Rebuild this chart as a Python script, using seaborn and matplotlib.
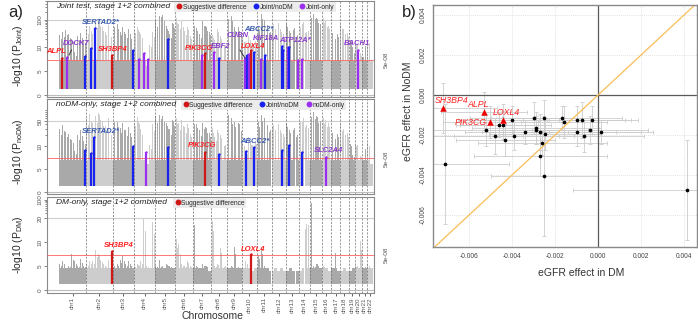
import numpy as np
import matplotlib.pyplot as plt
import seaborn as sns
from matplotlib.lines import Line2D

sns.set_style("white")
plt.rcParams['font.family'] = ['Liberation Sans', 'DejaVu Sans']
plt.rcParams['mathtext.default'] = 'regular'

# chromosome lengths (Mb)
chrom_len = [249, 243, 198, 191, 181, 171, 159, 146, 141, 136, 135, 134,
             115, 107, 103, 90, 81, 78, 59, 63, 48, 51]
chrom_names = [f"chr{i}" for i in range(1, 23)]

# background -log10(p) column heights, per chromosome
joint_bg = [
    [28, 35, 42, 30, 20, 9, 25, 32, 18],
    [45, 60, 30, 80, 95, 60, 40, 70, 25],
    [60, 75, 40, 55, 30, 45, 20],
    [40, 55, 30, 7, 6, 12, 35],
    [90, 150, 170, 120, 60, 30, 80],
    [130, 70, 90, 40, 55, 25],
    [80, 50, 30, 95, 60, 40],
    [30, 18, 45, 25, 12],
    [120, 150, 60, 90, 40],
    [20, 15, 25, 12, 18],
    [60, 180, 110, 70, 40],
    [80, 60, 100, 45, 30],
    [70, 40, 55, 30],
    [60, 90, 40, 50],
    [150, 170, 120, 80],
    [130, 90, 60],
    [40, 25, 30],
    [70, 45, 35],
    [20, 10],
    [14, 9],
    [8, 12],
    [18, 7],
]
nodm_bg = [
    [30, 38, 25, 22, 15, 9, 20, 28, 14],
    [60, 80, 45, 70, 83, 55, 40, 65, 22],
    [50, 53, 35, 43, 28, 34, 18],
    [45, 65, 30, 7, 6, 11, 40],
    [70, 83, 75, 60, 45, 30, 55],
    [65, 43, 55, 34, 40, 22],
    [53, 40, 28, 45, 34, 25],
    [34, 18, 28, 20, 11],
    [80, 65, 53, 70, 40],
    [12, 9, 18, 11, 14],
    [53, 81, 65, 43, 30],
    [43, 34, 53, 28, 22],
    [43, 28, 34, 22],
    [53, 65, 43, 40],
    [83, 90, 70, 55],
    [65, 53, 43],
    [28, 18, 22],
    [40, 30, 25],
    [12, 8],
    [11, 8],
    [7, 10],
    [12, 6],
]
dm_bg = [
    [5.5, 6, 4.5, 5, 7.5, 6, 5, 6.5, 5],
    [5.5, 6, 6, 8.3, 7.5, 6, 5, 6.5, 5],
    [5, 5.5, 6.5, 7, 5.5, 6, 5],
    [5, 5.5, 6, 20, 5, 4.5, 18],
    [5, 6.5, 5, 4.5, 5.5, 5, 4.5],
    [11.5, 9.5, 5.5, 5, 6, 5],
    [20, 5, 4.5, 5.5, 5, 4],
    [20, 5, 5.5, 8.8, 5],
    [4.5, 5, 9.5, 5, 4.5],
    [4.5, 6, 4.5, 4, 4.5],
    [7.6, 9.5, 5, 4.5, 4],
    [4, 4.5, 4, 4.5, 4],
    [4, 4.5, 4, 4],
    [4, 4.5, 18, 20],
    [100, 5, 5.5, 4.5],
    [5, 4.5, 4],
    [4.5, 8.8, 4],
    [4, 4.5, 4],
    [4, 4.5],
    [5, 11],
    [4.5, 5],
    [5.5, 4.5],
]

# highlighted loci: chromosome, position (Mb), top -log10(p), group
joint_loci_chr = [1, 1, 1, 2, 2, 2, 3, 4, 4, 4, 5, 7, 7, 8, 8, 10, 10, 10, 10, 10,
                  11, 11, 12, 12, 13, 13, 13, 14, 20]
joint_loci_pos = [30, 70, 239, 42, 81, 236, 184, 47, 90, 124, 116, 76, 110, 33, 79,
                  27, 43, 67, 87, 110, 35, 75, 93, 108, 20, 29, 106, 28, 23]
joint_loci_top = [7.7, 7.9, 8.2, 9.8, 50, 8.3, 9.4, 7.6, 8.8, 7.5, 19.8, 8.3, 8.8, 9, 7.8,
                  7.8, 8.3, 8.5, 9.4, 9, 7.6, 8.3, 10.5, 9.4, 10, 10, 7.2, 7.5, 9.4]
joint_loci_grp = ['s', 'o', 'b', 'b', 'b', 's', 'b', 'o', 'o', 'o', 'b', 'o', 's', 'o', 'b',
                  'o', 'b', 'o', 's', 'b', 'o', 'b', 'b', 'b', 'o', 'b', 'o', 'o', 'o']

nodm_loci_chr = [1, 2, 2, 3, 4, 5, 7, 8, 10, 10, 12, 13, 14, 16]
nodm_loci_pos = [239, 42, 75, 184, 110, 116, 110, 79, 35, 110, 93, 29, 35, 41]
nodm_loci_top = [9.1, 8.5, 18, 10, 8.8, 9.8, 8.8, 8.3, 8.9, 9.8, 9.1, 11, 8.8, 7.7]
nodm_loci_grp = ['b', 'b', 'b', 'b', 'o', 'b', 's', 'b', 'b', 'b', 'b', 'b', 'b', 'o']

dm_loci_chr = [2, 10]
dm_loci_pos = [236, 87]
dm_loci_top = [8.2, 7.5]
dm_loci_grp = ['s', 's']

# gene labels: text, cumulative Mb, -log10(p), group
joint_lab_text = ['ALPL', 'DOCK7', 'SERTAD2*', 'SH3BP4', 'PIK3CG', 'EBF2', 'CUBN',
                  'LOXL4', 'ABCC2*', 'KIF18A', 'ATP12A*', 'BACH1']
joint_lab_x = [-28, 156, 385, 495, 1282, 1486, 1642, 1780, 1835, 1899, 2165, 2734]
joint_lab_y = [9, 14, 78, 9.4, 9.6, 10, 25.6, 10, 46, 20, 17, 13]
joint_lab_grp = ['s', 'o', 'b', 's', 's', 'o', 'o', 's', 'b', 'o', 'o', 'o']

nodm_lab_text = ['SERTAD2*', 'PIK3CG', 'ABCC2*', 'SLC2A4']
nodm_lab_x = [385, 1312, 1798, 2477]
nodm_lab_y = [25, 10, 13, 9]
nodm_lab_grp = ['b', 's', 'b', 'o']

dm_lab_text = ['SH3BP4', 'LOXL4']
dm_lab_x = [550, 1780]
dm_lab_y = [9.2, 8.5]
dm_lab_grp = ['s', 's']

# panel b: eGFR effects
red_genes = ['SH3BP4', 'ALPL', 'PIK3CG', 'LOXL4']
red_dm = [-0.00722, -0.00532, -0.00501, -0.00440]
red_nodm = [-0.00067, -0.00087, -0.00137, -0.00127]
red_dm_se = [0.0025, 0.0020, 0.0022, 0.0021]
red_nodm_se = [0.00125, 0.0010, 0.0008, 0.0008]

black_dm = [-0.0040, -0.00298, -0.0025, -0.00169, -0.00158, -0.00098, -0.00076, -0.00026,
            -0.0046, -0.0044, -0.00521, -0.0048, -0.00431, -0.0039, -0.00338, -0.00288,
            -0.00288, -0.00268, -0.00248, -0.00259, -0.00268, -0.00098, -0.00067, -0.00037,
            0.00014, -0.00712, -0.0025, 0.00414]
black_nodm = [-0.00127, -0.00117, -0.00117, -0.00117, -0.00137, -0.00127, -0.00127, -0.00127,
              -0.00148, -0.00148, -0.00177, -0.00207, -0.00227, -0.00207, -0.00187, -0.00167,
              -0.00177, -0.00187, -0.00197, -0.00238, -0.00303, -0.00187, -0.00207, -0.00177,
              -0.00187, -0.00347, -0.00407, -0.00477]
black_dm_se = [0.0022, 0.0030, 0.0025, 0.0028, 0.0020, 0.0025, 0.0020, 0.0021, 0.0018, 0.0022,
               0.0025, 0.0030, 0.0023, 0.0028, 0.0020, 0.0030, 0.0024, 0.0035, 0.0026, 0.0030,
               0.0031, 0.0030, 0.0028, 0.0027, 0.0024, 0.0030, 0.0025, 0.0053]
black_nodm_se = [0.0007, 0.0008, 0.0009, 0.0006, 0.0008, 0.0007, 0.0009, 0.0007, 0.0006, 0.0007,
                 0.0008, 0.0009, 0.0008, 0.0007, 0.0006, 0.0008, 0.0007, 0.0009, 0.0008, 0.0006,
                 0.0010, 0.0007, 0.0008, 0.0007, 0.0006, 0.0030, 0.0030, 0.0025]

PT_COL = {'s': '#d01818', 'b': '#1a22f0', 'o': '#9a2ff0'}
TXT_COL = {'s': '#ff1f1f', 'b': '#3b5cb0', 'o': '#8c3ccc'}

chrom_start = np.concatenate([[0], np.cumsum(chrom_len)[:-1]])
chrom_mid = chrom_start + np.array(chrom_len) / 2


def cum_pos(chrs, pos):
    return [chrom_start[c - 1] + p for c, p in zip(chrs, pos)]


def u_of(v):
    v = np.asarray(v, dtype=float)
    return np.where(v <= 10, v, 10 + 10 * np.log10(np.maximum(v, 10) / 10))


def v_of(u):
    u = np.asarray(u, dtype=float)
    return np.where(u <= 10, u, 10 * 10 ** ((np.minimum(u, 80) - 10) / 10))


def make_scale(knots_v, knots_px):
    ku = u_of(knots_v)
    kp = np.asarray(knots_px, dtype=float)

    def fwd(v):
        return np.interp(u_of(v), ku, kp)

    def inv(p):
        return v_of(np.interp(p, kp, ku))
    return fwd, inv


def manhattan(ax, bg, base, loci, labels, knots, px_lim, major, minor, refline, title,
              leg, leg_x):
    fwd, inv = make_scale(*knots)
    ax.set_yscale('function', functions=(fwd, inv))
    for i, heights in enumerate(bg):
        n = len(heights)
        w = chrom_len[i] / n
        xs = chrom_start[i] + w * (np.arange(n) + 0.5)
        col = '#a9a9a9' if i % 2 == 0 else '#cdcdcd'
        hs = np.array(heights, dtype=float)
        low = np.minimum(hs, base)
        ax.bar(xs, low - 1.3, bottom=1.3, width=w * 0.97, color=col, linewidth=0, zorder=1)
        # sparser upper part of each column
        for off, frac in zip((-0.36, -0.12, 0.12, 0.36), (1.0, 0.75, 0.9, 0.6)):
            top = np.where(hs > base, base + (hs - base) * frac, base)
            ax.bar(xs + off * w, top - base, bottom=base, width=w * 0.15, color=col,
                   linewidth=0, zorder=1)
    for s in chrom_start[1:]:
        ax.axvline(s, color='#6e6e6e', lw=0.5, ls=(0, (3, 2)), zorder=2)
    ax.axhline(0, color='#bdbdbd', lw=0.8, zorder=2)
    ax.axhline(refline, color='#cfcfcf', lw=0.8, zorder=0.5)
    ax.axhline(-np.log10(5e-8), color='#ff6060', lw=0.6, zorder=3)
    chrs, pos, top, grp = loci
    for x, t, g in zip(cum_pos(chrs, pos), top, grp):
        ax.vlines(x, 1.3, t, color=PT_COL[g], lw=1.6, zorder=4)
        ax.scatter([x], [t], s=3, color=PT_COL[g], zorder=4, linewidths=0)
    for txt, x, y, g in zip(*labels):
        ax.text(x, y, txt, color=TXT_COL[g], fontsize=5.5, fontstyle='italic',
                fontweight='bold', ha='center', va='center', zorder=5)
    ax.set_xlim(-110, 2890)
    ax.set_ylim(inv(px_lim[0]), inv(px_lim[1]))
    ax.set_yticks(major)
    ax.set_yticklabels([str(m) for m in major])
    ax.set_yticks(minor, minor=True)
    ax.tick_params(axis='y', which='both', direction='out', length=2, width=0.5,
                   labelsize=4.6, pad=1, labelrotation=90, left=True, colors='#555555')
    ax.tick_params(axis='y', which='minor', length=1.2)
    for lab in ax.get_yticklabels():
        lab.set_va('center')
    for sp in ax.spines.values():
        sp.set_color('#8a8a8a')
        sp.set_linewidth(0.8)
    ax.text(0.028, 0.94, title, transform=ax.transAxes, fontsize=6.0, fontstyle='italic',
            ha='left', va='center', color='#222222')
    handles = [Line2D([], [], marker='o', ls='none', color=PT_COL[g], markersize=3.2)
               for g, _ in leg]
    lg = ax.legend(handles, [t for _, t in leg], loc='upper left', bbox_to_anchor=(leg_x, 1.005),
                   ncol=len(leg), fontsize=4.8, frameon=True, handletextpad=0.05,
                   columnspacing=0.9, borderpad=0.25, handlelength=1.0, borderaxespad=0.2)
    lg.get_frame().set_facecolor('#ececec')
    lg.get_frame().set_edgecolor('none')
    lg.get_frame().set_alpha(1)
    # 5e-08 label on the right
    ax.annotate('5e-08', xy=(1.0, -np.log10(5e-8)), xycoords=('axes fraction', 'data'),
                xytext=(9, 0), textcoords='offset points', rotation=90, fontsize=4.6,
                color='#555555', ha='center', va='center', annotation_clip=False)
    return fwd, inv


fig = plt.figure(figsize=(6.98, 3.23), dpi=100)

ax1 = fig.add_axes([0.0673, 0.6997, 0.4685, 0.2972])
ax2 = fig.add_axes([0.0673, 0.3994, 0.4685, 0.2941])
ax3 = fig.add_axes([0.0673, 0.0929, 0.4685, 0.2972])

manhattan(ax1, joint_bg, 7,
          (joint_loci_chr, joint_loci_pos, joint_loci_top, joint_loci_grp),
          (joint_lab_text, joint_lab_x, joint_lab_y, joint_lab_grp),
          ([-100, 0, 10, 100, 1e6], [-480, 0, 48, 75, 183]), (-2, 94),
          [0, 5, 10, 100], [20, 30, 40, 50, 60, 70, 80, 90, 200, 300, 400, 500],
          100, 'Joint test, stage 1+2 combined',
          [('s', 'Suggestive difference'), ('b', 'Joint/noDM'), ('o', 'Joint-only')],
          0.385)
manhattan(ax2, nodm_bg, 7,
          (nodm_loci_chr, nodm_loci_pos, nodm_loci_top, nodm_loci_grp),
          (nodm_lab_text, nodm_lab_x, nodm_lab_y, nodm_lab_grp),
          ([-100, 0, 10, 50, 1e6], [-460, 0, 46, 71, 225.8]), (-2, 93),
          [0, 5, 10, 50], [20, 30, 40, 60, 70, 80, 90, 100],
          50, 'noDM-only, stage 1+2 combined',
          [('s', 'Suggestive difference'), ('b', 'Joint/noDM'), ('o', 'noDM-only')],
          0.405)
manhattan(ax3, dm_bg, 4.5,
          (dm_loci_chr, dm_loci_pos, dm_loci_top, dm_loci_grp),
          (dm_lab_text, dm_lab_x, dm_lab_y, dm_lab_grp),
          ([-100, 0, 10, 20, 100, 1e6], [-480, 0, 48, 72, 90, 170]), (-3, 93),
          [0, 5, 10, 20, 100], [30, 40, 50, 60, 70, 80, 90],
          20, 'DM-only, stage 1+2 combined',
          [('s', 'Suggestive difference')], 0.38)

# DOCK7 / CUBN pointer lines
ax1.plot([92, 116], [8.3, 9.4], color='#222222', lw=0.6, zorder=5)
ax1.plot([1660, 1706], [9.4, 7.7], color='#222222', lw=0.6, zorder=5)

for ax in (ax1, ax2):
    ax.set_xticks([])
ax3.set_xticks(chrom_mid)
ax3.set_xticklabels(chrom_names, rotation=90, fontsize=4.5, color='#555555')
ax3.tick_params(axis='x', direction='out', length=2, width=0.5, pad=1, bottom=True)
ax3.set_xlabel('Chromosome', fontsize=7.5, color='#333333')
ax3.xaxis.set_label_coords(0.505, -0.19)

ax1.set_ylabel('-log10 (P$_{Joint}$)', fontsize=7.5)
ax2.set_ylabel('-log10 (P$_{noDM}$)', fontsize=7.5)
ax3.set_ylabel('-log10 (P$_{DM}$)', fontsize=7.5)
ax1.yaxis.set_label_coords(-0.068, 0.43)
ax2.yaxis.set_label_coords(-0.068, 0.45)
ax3.yaxis.set_label_coords(-0.068, 0.5)

# panel b
axb = fig.add_axes([0.6203, 0.2353, 0.3782, 0.7492])
xlim = (-0.00768, 0.0046)
ylim = (-0.0076, 0.0045)
for t in np.arange(-0.006, 0.0041, 0.002):
    axb.axvline(t, color='#d9d9d9', lw=0.6, ls=(0, (1, 1.5)), zorder=0)
    axb.axhline(t, color='#d9d9d9', lw=0.6, ls=(0, (1, 1.5)), zorder=0)
axb.errorbar(black_dm, black_nodm, xerr=black_dm_se, yerr=black_nodm_se, fmt='none',
             ecolor='#cccccc', elinewidth=0.6, capsize=1.5, capthick=0.6, zorder=1)
axb.errorbar(red_dm, red_nodm, xerr=red_dm_se, yerr=red_nodm_se, fmt='none',
             ecolor='#cccccc', elinewidth=0.6, capsize=1.5, capthick=0.6, zorder=1)
axb.axhline(0, color='#5a5a5a', lw=0.9, zorder=2)
axb.axvline(0, color='#5a5a5a', lw=0.9, zorder=2)
axb.plot([-0.01, 0.01], [-0.01, 0.01], color='#f9bd55', lw=0.9, zorder=2)
sns.scatterplot(x=black_dm, y=black_nodm, color='black', s=7, linewidth=0, ax=axb, zorder=3)
sns.scatterplot(x=red_dm, y=red_nodm, color='#ee0000', marker='^', s=22, linewidth=0,
                ax=axb, zorder=3)
lab_x = [-0.00758, -0.00558, -0.00593, -0.00426]
lab_y = [-0.00025, -0.00045, -0.00135, -0.00085]
lab_ha = ['left', 'center', 'center', 'center']
for g, x, y, ha in zip(red_genes, lab_x, lab_y, lab_ha):
    axb.text(x, y, g, color='#ff1f1f', fontsize=6.3, fontstyle='italic', ha=ha, va='center',
             zorder=4)
axb.set_xlim(*xlim)
axb.set_ylim(*ylim)
ticks = [-0.006, -0.004, -0.002, 0.0, 0.002, 0.004]
axb.set_xticks(ticks)
axb.set_xticklabels([f"{t:.3f}" for t in ticks])
axb.set_yticks(ticks)
axb.set_yticklabels([f"{t:.3f}" for t in ticks], rotation=90, va='center')
axb.tick_params(axis='both', direction='out', length=0, labelsize=4.8, pad=4.5, colors='#444444')
for sp in axb.spines.values():
    sp.set_color('#8a8a8a')
    sp.set_linewidth(1.0)
axb.set_xlabel('eGFR effect in DM', fontsize=7.5, color='#333333')
axb.set_ylabel('eGFR effect in NoDM', fontsize=7.5, color='#333333')
axb.xaxis.set_label_coords(0.56, -0.085)
axb.yaxis.set_label_coords(-0.075, 0.56)

fig.text(0.012, 0.962, 'a)', fontsize=12, ha='left', va='center')
fig.text(0.576, 0.962, 'b)', fontsize=12, ha='left', va='center')

fig.savefig('out.png', dpi=100)
